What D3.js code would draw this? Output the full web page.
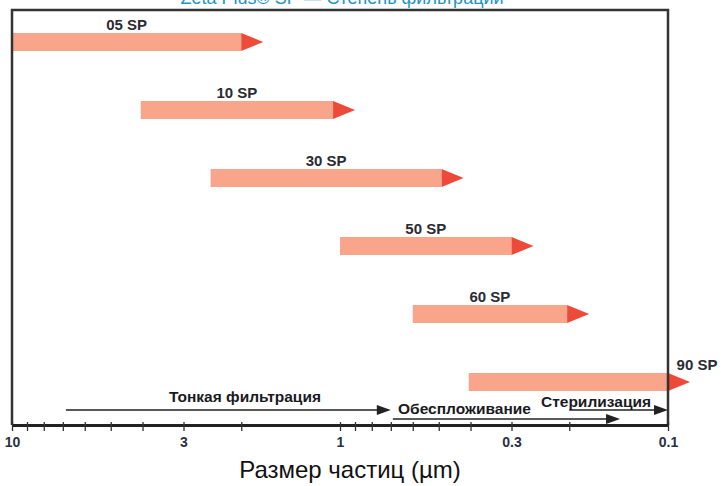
<!DOCTYPE html>
<html>
<head>
<meta charset="utf-8">
<title>Zeta Plus SP</title>
<style>
	body { margin: 0; background: #fff; }
	svg { display: block; }
	text { font-family: "Liberation Sans", Arial, sans-serif; }
</style>
</head>
<body>
<div id="chart"></div>
<script src="https://cdn.jsdelivr.net/npm/d3@7/dist/d3.min.js"></script>
<script>
	// grades and their retention range (µm), start -> end of the bar
	var grades = ["05 SP", "10 SP", "30 SP", "50 SP", "60 SP", "90 SP"];
	var rangeFrom = [10, 4.05, 2.48, 1.0, 0.6, 0.405];
	var rangeTo = [2.0, 1.05, 0.49, 0.30, 0.203, 0.1];

	// application arrows along the bottom
	var zones = ["Тонкая фильтрация", "Обеспложивание", "Стерилизация"];
	var zoneFrom = [6.85, 0.69, 0.2];
	var zoneTo = [0.7, 0.14, 0.1];

	var tickVals = [10, 9, 8, 7, 6, 5, 4, 3, 2, 1, 0.9, 0.8, 0.7, 0.6, 0.5, 0.4, 0.3, 0.2, 0.1];
	var tickLabels = {"10": "10", "3": "3", "1": "1", "0.3": "0.3", "0.1": "0.1"};

	var W = 721, H = 486;
	var plotLeft = 12, plotRight = 668, plotTop = 10, plotBottom = 425;
	var barH = 18, tipW = 22;

	var svg = d3.select("#chart").append("svg").attr("width", W).attr("height", H);

	var x = d3.scaleLog().domain([10, 0.1]).range([plotLeft, plotRight]);
	var y = d3.scalePoint().domain(grades).range([42, 382]);

	// title, cut by the top edge as in the source
	svg.append("text")
		.attr("x", 342).attr("y", 4)
		.attr("text-anchor", "middle")
		.attr("font-size", 18)
		.attr("fill", "#1f93c3")
		.text("Zeta Plus® SP — Степень фильтрации");

	// bars
	var rows = svg.append("g").selectAll("g").data(grades).enter().append("g");

	rows.append("rect")
		.attr("x", function(d, i) { return x(rangeFrom[i]); })
		.attr("y", function(d) { return y(d) - barH / 2; })
		.attr("width", function(d, i) { return x(rangeTo[i]) - x(rangeFrom[i]); })
		.attr("height", barH)
		.attr("fill", "#f9a58b");

	rows.append("path")
		.attr("d", function(d, i) {
			var x0 = x(rangeTo[i]), yc = y(d);
			return "M" + x0 + "," + (yc - barH / 2) + "L" + (x0 + tipW) + "," + yc + "L" + x0 + "," + (yc + barH / 2) + "Z";
		})
		.attr("fill", "#ee4a3a");

	rows.append("text")
		.attr("x", function(d, i) {
			if (i == grades.length - 1) return 697;
			return (x(rangeFrom[i]) + x(rangeTo[i])) / 2;
		})
		.attr("y", function(d, i) { return y(d) - (i == grades.length - 1 ? 12 : 12); })
		.attr("text-anchor", "middle")
		.attr("font-size", 15)
		.attr("font-weight", "bold")
		.attr("fill", "#2b2b33")
		.text(function(d) { return d; });

	// frame
	svg.append("path")
		.attr("d", "M" + plotLeft + "," + plotBottom + "V" + plotTop + "H" + plotRight + "V" + plotBottom)
		.attr("fill", "none")
		.attr("stroke", "#333")
		.attr("stroke-width", 2.5);

	// axis
	var axis = d3.axisBottom(x)
		.tickValues(tickVals)
		.tickSizeInner(6)
		.tickSizeOuter(0)
		.tickPadding(6)
		.tickFormat(function(d) { return tickLabels[String(+d.toFixed(2))] || ""; });

	var ax = svg.append("g").attr("transform", "translate(0," + plotBottom + ")").call(axis);
	ax.select(".domain").attr("stroke", "#222").attr("stroke-width", 3);
	ax.selectAll(".tick line").attr("y1", -3).attr("y2", 6).attr("stroke", "#333").attr("stroke-width", 1.3);
	ax.selectAll(".tick text")
		.attr("font-family", "Liberation Sans, Arial, sans-serif")
		.attr("font-size", 14)
		.attr("font-weight", "bold")
		.attr("fill", "#2b3040");

	svg.append("text")
		.attr("x", 350).attr("y", 478)
		.attr("text-anchor", "middle")
		.attr("font-size", 24)
		.attr("fill", "#111")
		.text("Размер частиц (µm)");

	// application arrows
	var zoneY = [410, 419, 410];
	var zoneLabelX = [245, 398, 541];
	var zoneLabelY = [402, 414, 407];
	var zoneAnchor = ["middle", "start", "start"];

	var zg = svg.append("g").selectAll("g").data(zones).enter().append("g");

	zg.append("line")
		.attr("x1", function(d, i) { return x(zoneFrom[i]); })
		.attr("x2", function(d, i) { return x(zoneTo[i]) - 12; })
		.attr("y1", function(d, i) { return zoneY[i]; })
		.attr("y2", function(d, i) { return zoneY[i]; })
		.attr("stroke", "#222")
		.attr("stroke-width", 1.3);

	zg.append("path")
		.attr("d", function(d, i) {
			var x1 = x(zoneTo[i]), yy = zoneY[i];
			return "M" + (x1 - 14) + "," + (yy - 5) + "L" + x1 + "," + yy + "L" + (x1 - 14) + "," + (yy + 5) + "Z";
		})
		.attr("fill", "#222");

	zg.append("text")
		.attr("x", function(d, i) { return zoneLabelX[i]; })
		.attr("y", function(d, i) { return zoneLabelY[i]; })
		.attr("text-anchor", function(d, i) { return zoneAnchor[i]; })
		.attr("font-size", 15.5)
		.attr("font-weight", "bold")
		.attr("fill", "#1a1a22")
		.text(function(d) { return d; });
</script>
</body>
</html>
